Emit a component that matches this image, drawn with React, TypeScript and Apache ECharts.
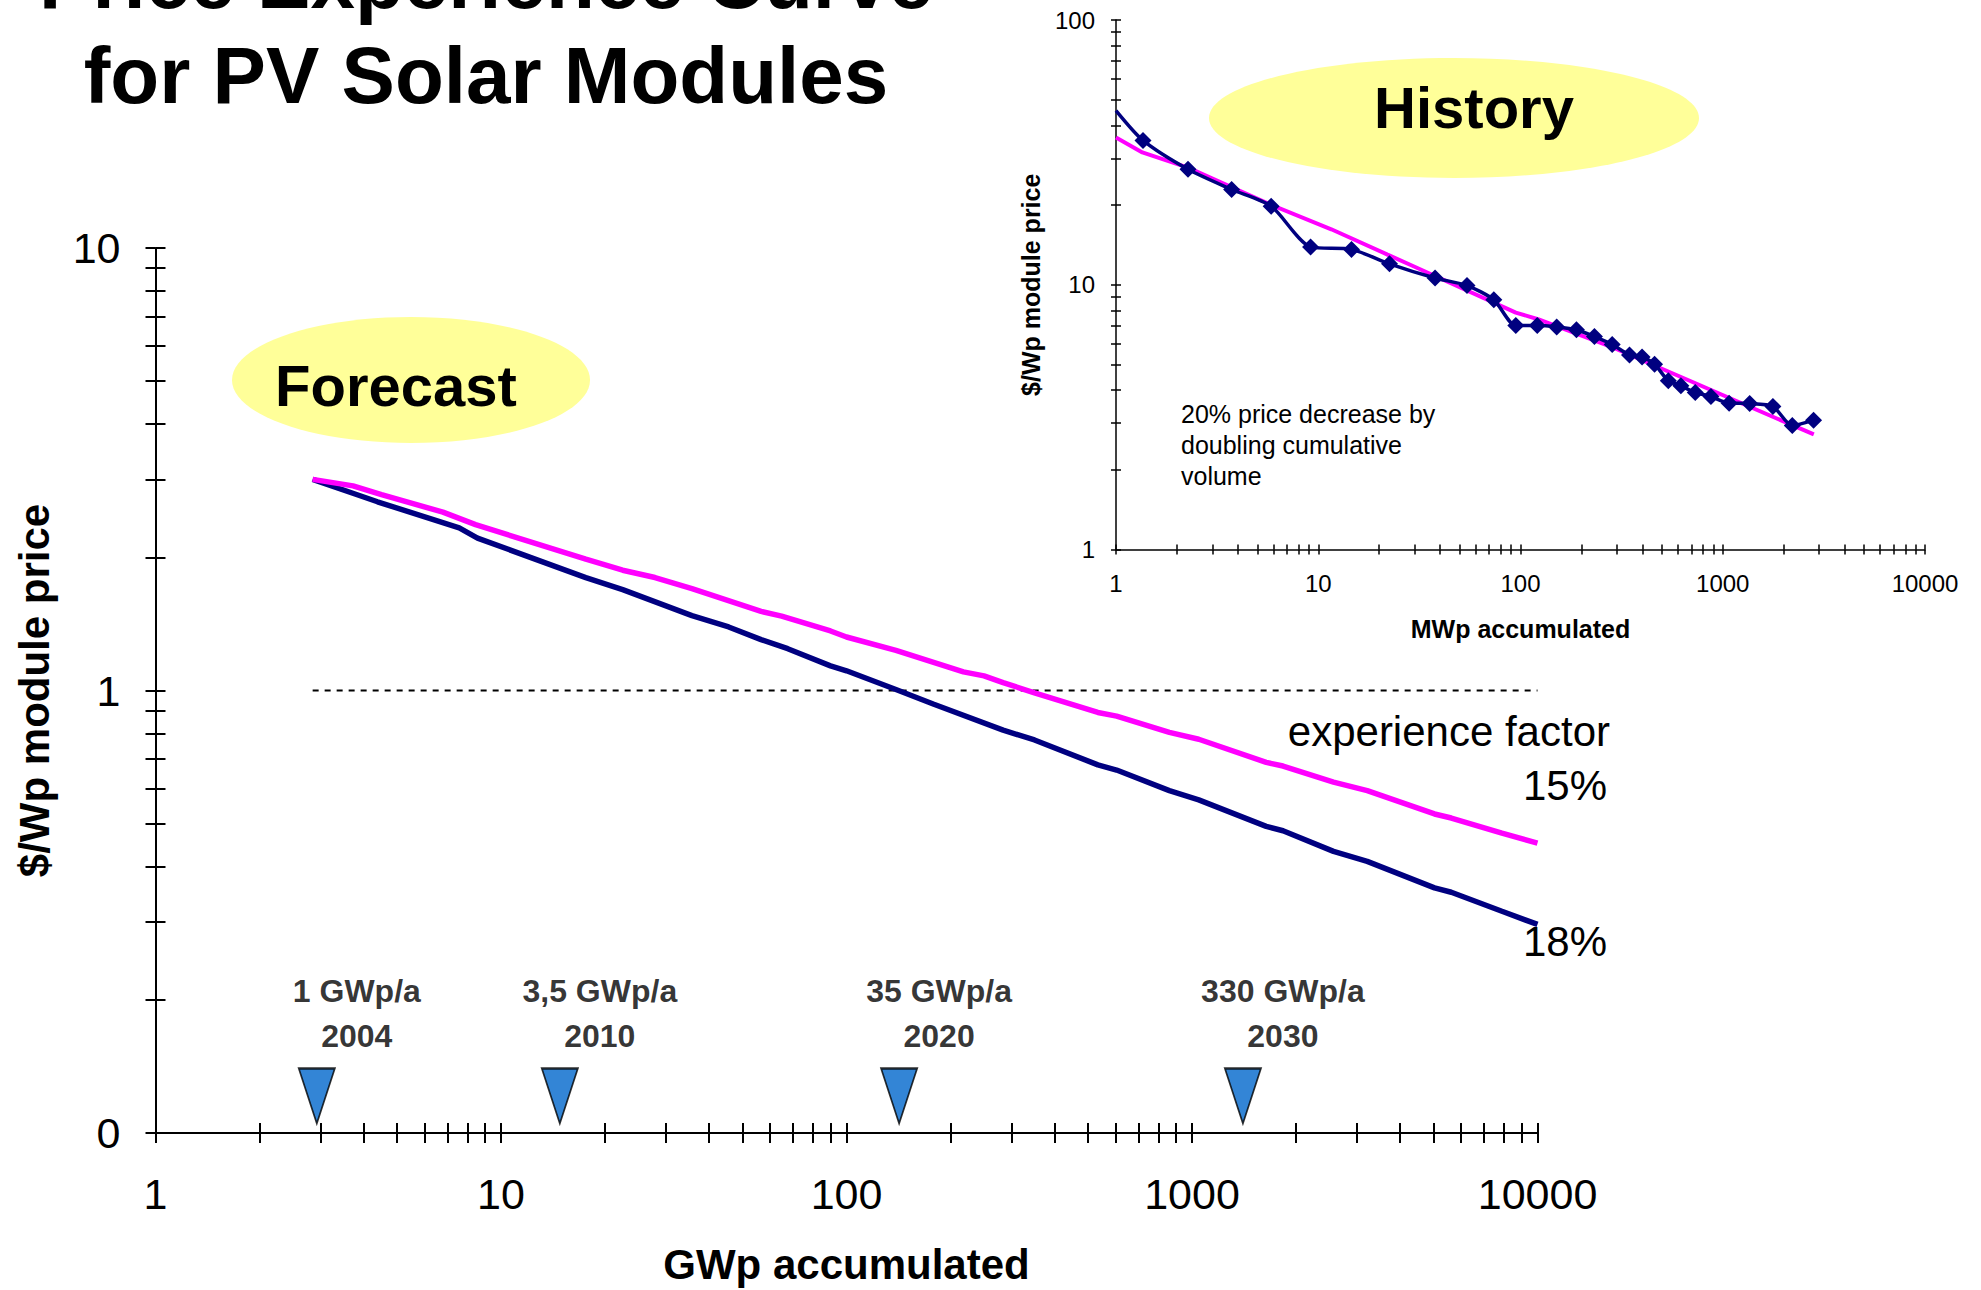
import React, { useEffect, useRef } from "react";
import * as echarts from "echarts";

const FONT = "'Liberation Sans', Arial, Helvetica, sans-serif";

// Forecast: accumulated GWp vs module price, experience factor 18 %
const forecastGWp18 = [2.85, 3.78, 4.39, 7.57, 8.55, 17.6, 22.5, 35.7, 45.6, 56.6, 67.6, 89.9, 100, 139, 179, 284, 350, 534, 605, 860, 1046, 1640, 1834, 2568, 3215, 5034, 5630, 7889, 10000];
const forecastPrice18 = [3.0, 2.78, 2.67, 2.33, 2.21, 1.8, 1.69, 1.477, 1.392, 1.303, 1.243, 1.137, 1.108, 1.005, 0.931, 0.814, 0.773, 0.679, 0.661, 0.594, 0.566, 0.493, 0.482, 0.433, 0.411, 0.358, 0.35, 0.317, 0.296];

// Forecast, experience factor 15 %
const forecastGWp15 = [2.85, 3.73, 4.51, 6.79, 8.44, 17.6, 22.5, 27.9, 35.7, 56.6, 64.9, 89.9, 100, 139, 218, 250, 284, 350, 534, 605, 860, 1046, 1640, 1834, 2568, 3215, 5034, 5630, 7889, 10000];
const forecastPrice15 = [3.0, 2.9, 2.77, 2.53, 2.37, 1.98, 1.87, 1.8, 1.7, 1.509, 1.473, 1.363, 1.321, 1.232, 1.102, 1.079, 1.042, 0.988, 0.892, 0.875, 0.804, 0.776, 0.688, 0.675, 0.621, 0.594, 0.526, 0.515, 0.476, 0.452];

// 1 $/Wp reference line
const refPrice = 1;
const refSpanGWp = [2.85, 10000];

// Annual market milestones along the accumulated volume axis
const milestoneGWp = [2.93, 14.8, 142, 1404];
const milestoneRate = ["1 GWp/a", "3,5 GWp/a", "35 GWp/a", "330 GWp/a"];
const milestoneYear = ["2004", "2010", "2020", "2030"];

// History: accumulated MWp vs module price (first entry = curve start, no marker)
const historyMWp = [1, 1.36, 2.27, 3.73, 5.85, 9.16, 14.6, 22.5, 37.8, 54.4, 73.8, 94.8, 121, 151, 189, 232, 284, 346, 399, 460, 538, 621, 731, 874, 1075, 1359, 1770, 2207, 2812];
const historyPrice = [45.5, 35.1, 27.3, 22.9, 19.8, 13.9, 13.6, 12.0, 10.6, 9.93, 8.77, 7.01, 7.01, 6.93, 6.76, 6.37, 5.95, 5.43, 5.33, 5.01, 4.34, 4.15, 3.92, 3.78, 3.57, 3.56, 3.47, 2.94, 3.08];

// History trend line (20 % per doubling)
const trendMWp = [1, 1.35, 2.27, 5.8, 11.6, 22, 29.2, 94.8, 122, 275, 2820];
const trendPrice = [36.0, 31.6, 27.7, 20.1, 16.2, 13.0, 11.8, 7.85, 7.41, 5.87, 2.72];

// Axis ranges and labelled values
const mainXRange = [1, 10000];
const mainYRange = [0.1, 10];
const mainXLabels = [1, 10, 100, 1000, 10000];
const mainYLabels = [0.1, 1, 10];
const insetXRange = [1, 10000];
const insetYRange = [1, 100];
const insetXLabels = [1, 10, 100, 1000, 10000];
const insetYLabels = [1, 10, 100];

// 1..9 tick marks in every decade between 10^e0 and 10^e1
function logTicks(e0: number, e1: number): number[] {
  const out: number[] = [];
  for (let e = e0; e < e1; e++) {
    for (let s = 1; s <= 9; s++) out.push(Number((s * Math.pow(10, e)).toPrecision(4)));
  }
  out.push(Math.pow(10, e1));
  return out;
}

const zip = (xs: number[], ys: number[]) => xs.map((x, i) => [x, ys[i]]);
const roundLabel = (v: number) => String(Math.round(v));

type AxisCfg = {
  grid: number;
  range: number[];
  ticks: number[];
  labels: number[];
  pos: string;
  lineW: number;
  tickLen: number;
  labelSize: number;
  labelMargin: number;
  name: string;
  nameSize: number;
  nameGap: number;
};

// Two log axes per side: one with outward ticks, labels and name,
// one with inward ticks, so every tick crosses the axis line.
function axisPair(c: AxisCfg) {
  const tickStyle = { color: "#000", width: c.lineW };
  const primary = {
    gridIndex: c.grid,
    type: "log",
    logBase: 10,
    min: c.range[0],
    max: c.range[1],
    position: c.pos,
    axisLine: { show: true, onZero: false, lineStyle: { color: "#000", width: c.lineW } },
    axisTick: { show: true, inside: false, length: c.tickLen, lineStyle: tickStyle, customValues: c.ticks },
    minorTick: { show: false },
    splitLine: { show: false },
    axisLabel: {
      show: true,
      customValues: c.labels,
      formatter: roundLabel,
      fontSize: c.labelSize,
      fontFamily: FONT,
      color: "#000",
      margin: c.labelMargin,
    },
    name: c.name,
    nameLocation: "middle",
    nameGap: c.nameGap,
    nameTextStyle: { fontSize: c.nameSize, fontWeight: "bold", fontFamily: FONT, color: "#000" },
  };
  const overlay = {
    gridIndex: c.grid,
    type: "log",
    logBase: 10,
    min: c.range[0],
    max: c.range[1],
    position: c.pos,
    axisLine: { show: false, onZero: false },
    axisTick: { show: true, inside: true, length: c.tickLen, lineStyle: tickStyle, customValues: c.ticks },
    minorTick: { show: false },
    splitLine: { show: false },
    axisLabel: { show: false },
  };
  return [primary, overlay];
}

const [mainX, mainXIn] = axisPair({
  grid: 0, range: mainXRange, ticks: logTicks(0, 4), labels: mainXLabels, pos: "bottom",
  lineW: 2, tickLen: 10, labelSize: 43, labelMargin: 39, name: "GWp accumulated", nameSize: 42, nameGap: 110,
});
const [mainY, mainYIn] = axisPair({
  grid: 0, range: mainYRange, ticks: logTicks(-1, 1), labels: mainYLabels, pos: "left",
  lineW: 2, tickLen: 10, labelSize: 43, labelMargin: 35, name: "$/Wp module price", nameSize: 42, nameGap: 100,
});
const [insetX, insetXIn] = axisPair({
  grid: 1, range: insetXRange, ticks: logTicks(0, 4), labels: insetXLabels, pos: "bottom",
  lineW: 1.5, tickLen: 5, labelSize: 24, labelMargin: 22, name: "MWp accumulated", nameSize: 25, nameGap: 67,
});
const [insetY, insetYIn] = axisPair({
  grid: 1, range: insetYRange, ticks: logTicks(0, 2), labels: insetYLabels, pos: "left",
  lineW: 1.5, tickLen: 5, labelSize: 24, labelMargin: 21, name: "$/Wp module price", nameSize: 25, nameGap: 73,
});

const textEl = (x: number, y: number, text: string, size: number, bold: boolean, align: string, vAlign = "middle", lineHeight?: number) => ({
  type: "text",
  x,
  y,
  z: 10,
  style: {
    text,
    fontSize: size,
    fontWeight: bold ? "bold" : "normal",
    fontFamily: FONT,
    fill: "#000",
    align,
    verticalAlign: vAlign,
    lineHeight: lineHeight ?? size,
  },
});

const option = {
  animation: false,
  backgroundColor: "#ffffff",
  textStyle: { fontFamily: FONT },
  grid: [
    { left: 155.5, right: 443.5, top: 248, bottom: 153 },
    { left: 1116, right: 56, top: 20, bottom: 740.5 },
  ],
  xAxis: [mainX, mainXIn, insetX, insetXIn],
  yAxis: [mainY, mainYIn, insetY, insetYIn],
  graphic: [
    textEl(486, -20, "Price Experience Curve", 80, true, "center"),
    textEl(486, 75, "for PV Solar Modules", 80, true, "center"),
    { type: "ellipse", z: 1, shape: { cx: 411, cy: 380, rx: 179, ry: 63 }, style: { fill: "#FFFF99" } },
    textEl(396, 385, "Forecast", 58, true, "center"),
    { type: "ellipse", z: 1, shape: { cx: 1454, cy: 118, rx: 245, ry: 60 }, style: { fill: "#FFFF99" } },
    textEl(1474, 107, "History", 58, true, "center"),
    textEl(1181, 398, "20% price decrease by\ndoubling cumulative\nvolume", 25, false, "left", "top", 31),
    textEl(1610, 731, "experience factor", 42, false, "right"),
    textEl(1607, 785, "15%", 42, false, "right"),
    textEl(1607, 941, "18%", 42, false, "right"),
  ],
  series: [
    {
      name: "1 $/Wp",
      type: "line",
      xAxisIndex: 0,
      yAxisIndex: 0,
      data: refSpanGWp.map((g) => [g, refPrice]),
      symbol: "none",
      lineStyle: { color: "#000", width: 2, type: [6, 6] },
      z: 2,
    },
    {
      name: "18%",
      type: "line",
      xAxisIndex: 0,
      yAxisIndex: 0,
      data: zip(forecastGWp18, forecastPrice18),
      symbol: "none",
      lineStyle: { color: "#000080", width: 5.5 },
      z: 3,
    },
    {
      name: "15%",
      type: "line",
      xAxisIndex: 0,
      yAxisIndex: 0,
      data: zip(forecastGWp15, forecastPrice15),
      symbol: "none",
      lineStyle: { color: "#FF00FF", width: 5.5 },
      z: 4,
    },
    {
      name: "milestones",
      type: "scatter",
      xAxisIndex: 0,
      yAxisIndex: 0,
      clip: false,
      data: milestoneGWp.map((g) => [g, mainYRange[0]]),
      symbol: "triangle",
      symbolRotate: 180,
      symbolSize: [36, 55],
      symbolOffset: [0, -37],
      itemStyle: { color: "#0066CC", borderColor: "#000", borderWidth: 2 },
      label: {
        show: true,
        position: "inside",
        offset: [40, -83],
        formatter: (p: any) => `${milestoneRate[p.dataIndex]}\n${milestoneYear[p.dataIndex]}`,
        fontSize: 32,
        fontWeight: "bold",
        fontFamily: FONT,
        color: "#000",
        lineHeight: 45,
        align: "center",
        verticalAlign: "middle",
      },
      z: 5,
    },
    {
      name: "trend",
      type: "line",
      xAxisIndex: 2,
      yAxisIndex: 2,
      data: zip(trendMWp, trendPrice),
      symbol: "none",
      lineStyle: { color: "#FF00FF", width: 4 },
      z: 3,
    },
    {
      name: "history",
      type: "line",
      xAxisIndex: 2,
      yAxisIndex: 2,
      data: historyMWp.map((m, i) => (i === 0 ? { value: [m, historyPrice[i]], symbol: "none" } : [m, historyPrice[i]])),
      smooth: 0.25,
      symbol: "diamond",
      symbolSize: 17,
      showAllSymbol: true,
      itemStyle: { color: "#000080" },
      lineStyle: { color: "#000080", width: 3.5 },
      z: 4,
    },
  ],
};

export default function App() {
  const ref = useRef<HTMLDivElement>(null);
  useEffect(() => {
    const chart = echarts.init(ref.current!, null, { renderer: "svg" });
    chart.setOption(option as any);
    return () => chart.dispose();
  }, []);
  return (
    <div
      ref={ref}
      style={{ position: "fixed", left: 0, top: 0, width: 1981, height: 1290, background: "#fff" }}
    />
  );
}
